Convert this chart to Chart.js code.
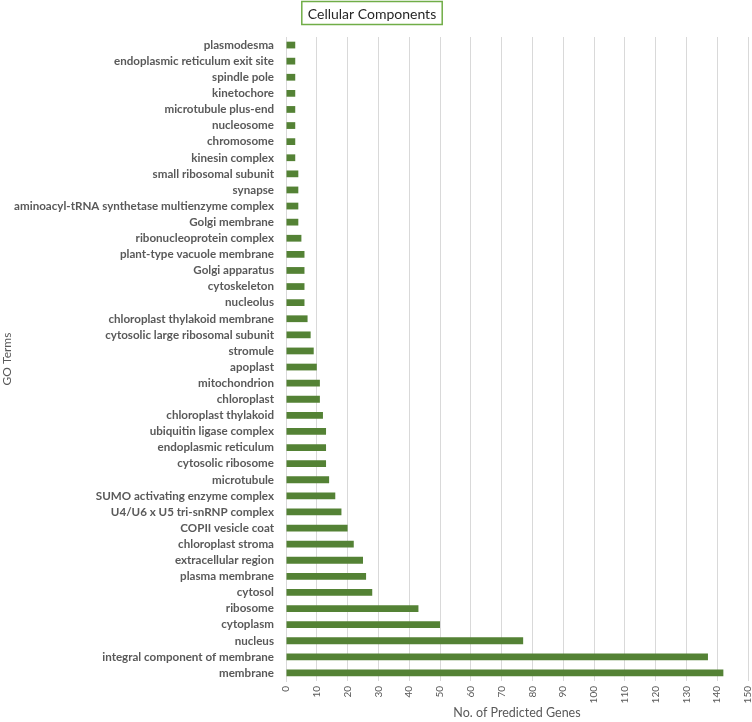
<!DOCTYPE html>
<html>
<head>
<meta charset="utf-8">
<script src="https://cdn.jsdelivr.net/npm/chart.js@4/dist/chart.umd.min.js"></script>
<style>
  html, body { margin: 0; padding: 0; background: #fff; }
  #wrap { width: 752px; height: 722px; position: relative; }
</style>
</head>
<body>
<div id="wrap"><canvas id="go-chart"></canvas></div>
<script>
var terms = [
    "plasmodesma",
    "endoplasmic reticulum exit site",
    "spindle pole",
    "kinetochore",
    "microtubule plus-end",
    "nucleosome",
    "chromosome",
    "kinesin complex",
    "small ribosomal subunit",
    "synapse",
    "aminoacyl-tRNA synthetase multienzyme complex",
    "Golgi membrane",
    "ribonucleoprotein complex",
    "plant-type vacuole membrane",
    "Golgi apparatus",
    "cytoskeleton",
    "nucleolus",
    "chloroplast thylakoid membrane",
    "cytosolic large ribosomal subunit",
    "stromule",
    "apoplast",
    "mitochondrion",
    "chloroplast",
    "chloroplast thylakoid",
    "ubiquitin ligase complex",
    "endoplasmic reticulum",
    "cytosolic ribosome",
    "microtubule",
    "SUMO activating enzyme complex",
    "U4/U6 x U5 tri-snRNP complex",
    "COPII vesicle coat",
    "chloroplast stroma",
    "extracellular region",
    "plasma membrane",
    "cytosol",
    "ribosome",
    "cytoplasm",
    "nucleus",
    "integral component of membrane",
    "membrane"
];

var geneCounts = [
    3, 3, 3, 3, 3, 3, 3, 3,
    4, 4, 4, 4,
    5,
    6, 6, 6, 6,
    7, 8, 9, 10, 11, 11, 12, 13, 13, 13, 14,
    16, 18, 20, 22, 25, 26, 28,
    43, 50, 77, 137, 142
];

var xMin = 0;
var xMax = 150;
var xStep = 10;

var chartTitle = "Cellular Components";
var xTitle = "No. of Predicted Genes";
var yTitle = "GO Terms";

(function () {
    "use strict";

    // boxed title like the Excel text box
    var boxedTitle = {
        id: "boxedTitle",
        afterDraw: function (chart) {
            var ctx = chart.ctx;
            ctx.save();
            ctx.font = "14px Lato";
            var w = ctx.measureText(chartTitle).width;
            var cx = chart.width / 2 - 4;
            var bw = w + 12;
            ctx.strokeStyle = "#70ad47";
            ctx.lineWidth = 1.5;
            ctx.strokeRect(cx - bw / 2, 1.5, bw, 23);
            ctx.fillStyle = "#262626";
            ctx.textAlign = "center";
            ctx.textBaseline = "middle";
            ctx.fillText(chartTitle, cx, 14);
            ctx.restore();
        }
    };

    new Chart(document.getElementById("go-chart"), {
        type: "bar",
        data: {
            labels: terms,
            datasets: [
                {
                    label: "Genes",
                    data: geneCounts,
                    backgroundColor: "#548235",
                    borderWidth: 0,
                    barPercentage: 0.42,
                    categoryPercentage: 1.0
                }
            ]
        },
        options: {
            indexAxis: "y",
            animation: false,
            responsive: true,
            maintainAspectRatio: false,
            layout: { padding: { top: 37, right: 4, left: 0, bottom: 0 } },
            plugins: {
                legend: { display: false },
                tooltip: { enabled: false }
            },
            scales: {
                x: {
                    min: xMin,
                    max: xMax,
                    ticks: {
                        stepSize: xStep,
                        minRotation: 90,
                        maxRotation: 90,
                        padding: 5,
                        color: "#595959",
                        font: { family: "Lato", size: 10 }
                    },
                    grid: { color: "#d9d9d9", lineWidth: 1, drawTicks: false },
                    border: { display: false },
                    title: {
                        display: true,
                        text: xTitle,
                        color: "#595959",
                        font: { family: "Lato", size: 12.5 },
                        padding: { top: 0, bottom: 2 }
                    },
                    afterFit: function (scale) {
                        scale.height = 41;
                        scale.paddingLeft = 0;
                        scale.paddingRight = 0;
                    }
                },
                y: {
                    ticks: {
                        autoSkip: false,
                        padding: 12,
                        color: "#595959",
                        font: { family: "Lato", size: 11.6, weight: "bold" }
                    },
                    grid: { display: false, drawTicks: false },
                    border: { display: true, color: "#d9d9d9" },
                    title: {
                        display: true,
                        text: yTitle,
                        color: "#595959",
                        font: { family: "Lato", size: 12 },
                        padding: { top: 0, bottom: 0 }
                    },
                    afterFit: function (scale) {
                        scale.width = 286;
                        scale.paddingTop = 0;
                        scale.paddingBottom = 0;
                    }
                }
            }
        },
        plugins: [boxedTitle]
    });
})();
</script>
</body>
</html>
